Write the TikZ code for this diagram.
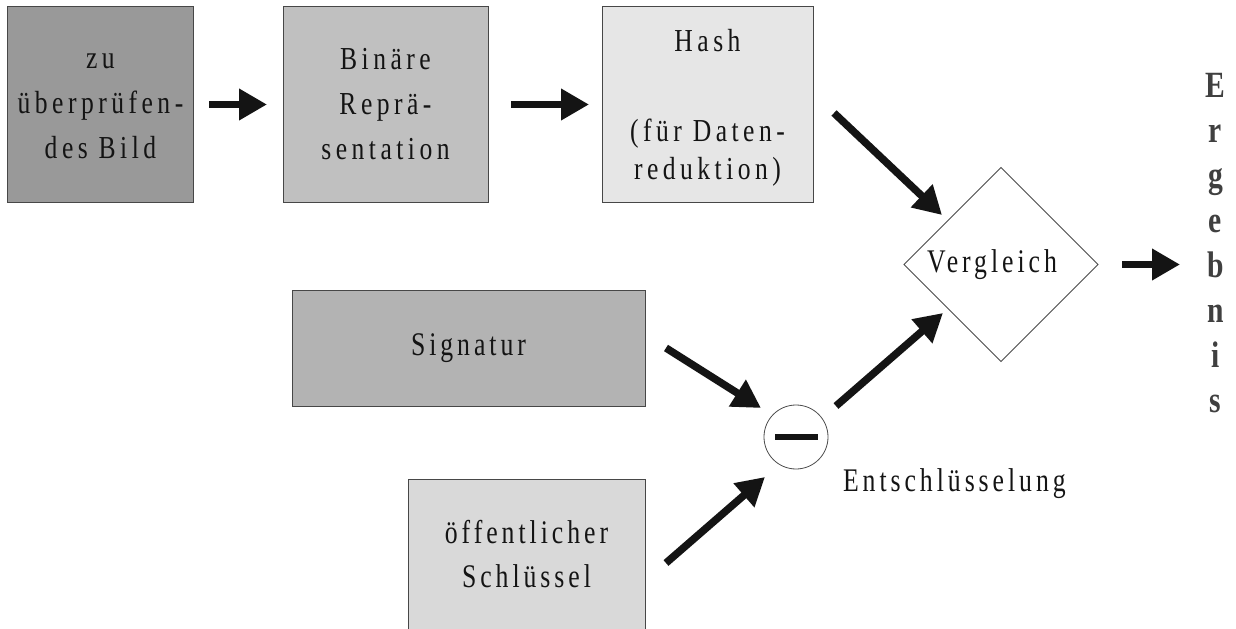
\documentclass[tikz,border=0pt]{standalone}
\usepackage{fontspec}
\setmainfont{Liberation Serif}[LetterSpace=12, FakeStretch=0.78]
\newfontfamily\topfont{Liberation Serif}[LetterSpace=14, FakeStretch=0.8]
\newfontfamily\ergfont{Liberation Serif}[FakeStretch=0.8]
\usetikzlibrary{shapes.geometric,arrows.meta}
\definecolor{cA}{HTML}{999999}
\definecolor{cB}{HTML}{C0C0C0}
\definecolor{cC}{HTML}{E6E6E6}
\definecolor{cD}{HTML}{B3B3B3}
\definecolor{cE}{HTML}{D9D9D9}
\definecolor{ink}{HTML}{141414}
\begin{document}
\begin{tikzpicture}[x=1bp,y=-1bp,
  every node/.style={inner sep=0pt, outer sep=0pt},
  txt/.style={font=\fontsize{33bp}{44bp}\selectfont, text=ink, align=center},
  toptxt/.style={font=\topfont\fontsize{32bp}{45bp}\selectfont, text=ink, align=center},
  blk/.style={draw=black!72, line width=1bp},
  arr/.style={draw=ink, line width=7.5bp, -{Triangle[length=28bp,width=30bp]}},
  outl/.style={draw=black!70, line width=0.8bp, fill=white}
]
\useasboundingbox[fill=white] (0,0) rectangle (1236,629);

% upper row
\node[blk, toptxt, fill=cA, minimum width=185bp, minimum height=195bp] (bild) at (100.5,104.5)
  {\rule{0pt}{19bp}zu\\überprüfen-\\des Bild};
\node[blk, toptxt, fill=cB, minimum width=205bp, minimum height=195bp] (bin) at (385.5,104.5)
  {Binäre\\Reprä-\\sentation};
\node[blk, toptxt, fill=cC, minimum width=211bp, minimum height=195bp,
      font=\topfont\fontsize{32bp}{38bp}\selectfont] (hash) at (707.5,104.5)
  {\rule{0pt}{28.7bp}Hash\\[52bp](für Daten-\\reduktion)};

% lower boxes
\node[blk, txt, fill=cD, minimum width=353bp, minimum height=115bp] (sig) at (468.5,348.5)
  {Signatur};
\node[blk, txt, fill=cE, minimum width=237bp, minimum height=161bp] (key) at (526.5,559.5)
  {öffentlicher\\Schlüssel\rule[-11.5bp]{0pt}{1bp}};

% comparison diamond and decryption circle
\node[outl, diamond, aspect=1, minimum width=194bp, minimum height=194bp, txt] (cmp) at (1001,264.5)
  {Vergleich\hspace*{18bp}};
\node[outl, circle, minimum size=64bp] (dec) at (796,437)
  {\color{ink}\rule{43bp}{6.5bp}};
\node[txt, anchor=base west] (declbl) at (843,491) {Entschlüsselung};

% result
\node[font=\ergfont\fontsize{37bp}{45bp}\selectfont\bfseries, text=black!75, align=center, anchor=north] (erg) at (1215.5,73.5)
  {E\\r\\g\\e\\b\\n\\i\\s};

% connector end points
\coordinate (hashout) at (834,113);
\coordinate (cmpinA) at (942,215);
\coordinate (sigout) at (666,348);
\coordinate (decinA) at (761,408);
\coordinate (keyout) at (666,563);
\coordinate (decinB) at (765,477);
\coordinate (decout) at (836,406);
\coordinate (cmpinB) at (943,313);
\coordinate (res) at (1180,264.5);

% connectors
\draw[arr, shorten <=16bp, shorten >=16bp] (bild.east) -- (bin.west);
\draw[arr, shorten <=23bp, shorten >=13bp] (bin.east) -- (hash.west);
\draw[arr] (hashout) -- (cmpinA);
\draw[arr] (sigout) -- (decinA);
\draw[arr] (keyout) -- (decinB);
\draw[arr] (decout) -- (cmpinB);
\draw[arr, shorten <=24bp] (cmp.east) -- (res);
\end{tikzpicture}
\end{document}
